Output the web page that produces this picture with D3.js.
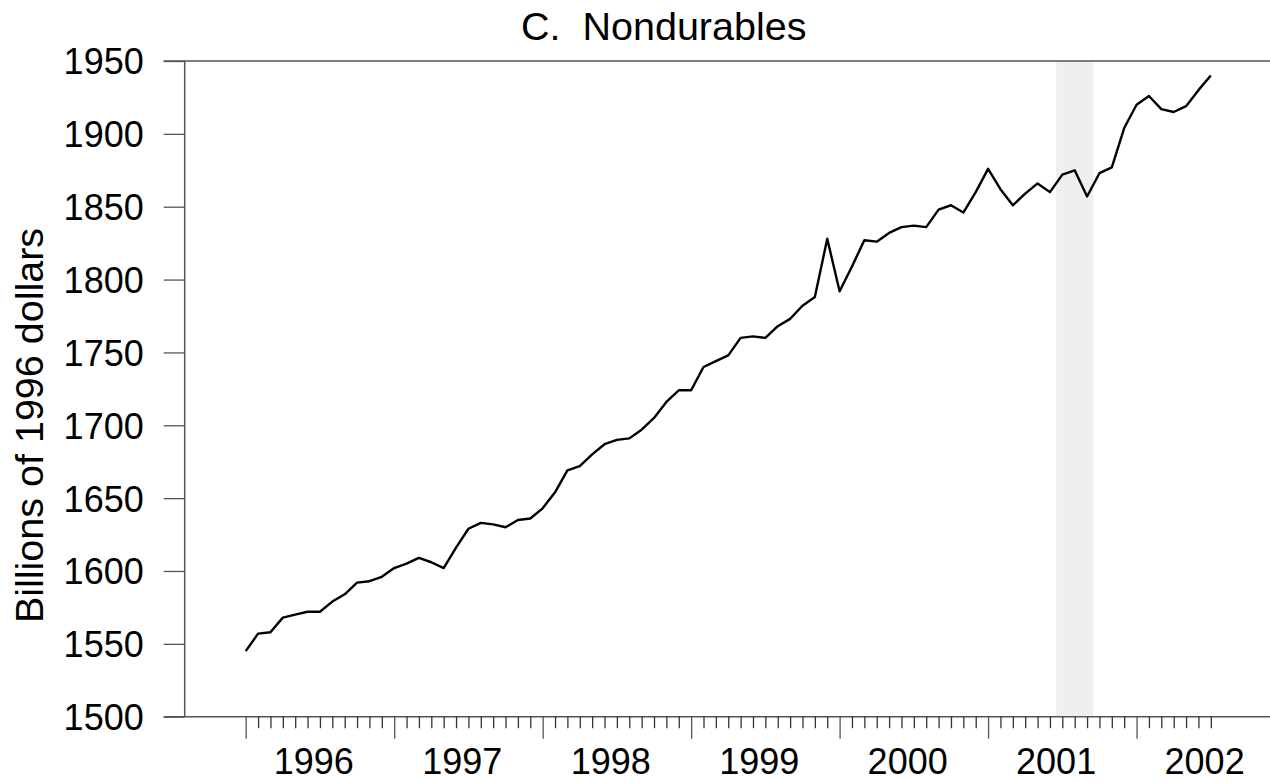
<!DOCTYPE html>
<html>
<head>
<meta charset="utf-8">
<script src="https://d3js.org/d3.v7.min.js"></script>
<style>
  body { margin: 0; background: #fff; }
  text { font-family: "Liberation Sans", Arial, sans-serif; fill: #000; }
</style>
</head>
<body>
<div id="chart"></div>
<script>
  // monthly values, Jan 1996 .. Jul 2002 (billions of 1996 dollars)
  var values = [
    1545, 1557, 1558, 1568, 1570, 1572, 1572, 1579, 1584, 1592, 1593, 1596,   // 1996
    1602, 1605, 1609, 1606, 1602, 1616, 1629, 1633, 1632, 1630, 1635, 1636,   // 1997
    1643, 1654, 1669, 1672, 1680, 1687, 1690, 1691, 1697, 1705, 1716, 1724,   // 1998
    1724, 1740, 1744, 1748, 1760, 1761, 1760, 1768, 1773, 1782, 1788, 1828,   // 1999
    1792, 1809, 1827, 1826, 1832, 1836, 1837, 1836, 1848, 1851, 1846, 1860,   // 2000
    1876, 1862, 1851, 1859, 1866, 1860, 1872, 1875, 1857, 1873, 1877, 1904,   // 2001
    1920, 1926, 1917, 1915, 1919, 1930, 1940                                  // 2002
  ];
  var years = [1996, 1997, 1998, 1999, 2000, 2001, 2002];
  var yTicks = [1500, 1550, 1600, 1650, 1700, 1750, 1800, 1850, 1900, 1950];
  // shaded months (index from Jan 1996): Jul 2001 .. Sep 2001
  var shadeMonths = [66, 68];

  var W = 1270, H = 783;
  var svg = d3.select("#chart").append("svg")
      .attr("width", W)
      .attr("height", H);

  var nMonths = values.length - 1;
  var x = d3.scaleLinear().domain([0, nMonths]).range([245.7, 1210.8]);
  var y = d3.scaleLinear().domain([1500, 1950]).range([716.7, 61]);

  var axisLeftX = 184.7, tickStart = 163.7;

  // shaded band
  svg.append("rect")
    .attr("x", x(shadeMonths[0] - 0.5))
    .attr("y", y(1950))
    .attr("width", x(shadeMonths[1] + 0.5) - x(shadeMonths[0] - 0.5))
    .attr("height", y(1500) - y(1950))
    .attr("fill", "#efefef");

  // y axis
  var gy = svg.append("g")
    .attr("transform", "translate(" + axisLeftX + ",0)")
    .call(d3.axisLeft(y).tickValues(yTicks).tickFormat(d3.format("d"))
      .tickSize(axisLeftX - tickStart).tickPadding(20));
  gy.select(".domain").remove();
  gy.selectAll(".tick line").attr("stroke", "#555").attr("stroke-width", 1.3);
  gy.selectAll(".tick text")
    .style("font-size", "36px")
    .style("font-family", "'Liberation Sans', Arial, sans-serif")
    .attr("dy", "0.36em");
  svg.append("line")
    .attr("x1", axisLeftX).attr("x2", axisLeftX)
    .attr("y1", y(1950)).attr("y2", y(1500))
    .attr("stroke", "#555").attr("stroke-width", 1.5);

  // top and bottom rules
  [1500, 1950].forEach(function(v) {
    svg.append("line")
      .attr("x1", tickStart).attr("x2", W)
      .attr("y1", y(v)).attr("y2", y(v))
      .attr("stroke", "#555").attr("stroke-width", 1.5);
  });

  // x axis: monthly ticks, longer at each January
  var gx = svg.append("g")
    .attr("transform", "translate(0," + y(1500) + ")")
    .call(d3.axisBottom(x).tickValues(d3.range(0, nMonths + 1)).tickSize(11.5).tickFormat(""));
  gx.select(".domain").remove();
  gx.selectAll(".tick line")
    .attr("stroke-width", 1.3)
    .attr("y2", function(d) { return d % 12 === 0 ? 22 : 11.5; })
    .attr("stroke", function(d) { return d % 12 === 0 ? "#555" : "#333"; });

  svg.append("g").selectAll("text")
    .data(years)
    .enter()
    .append("text")
      .attr("x", function(d) { return x((d - years[0]) * 12 + 5.5); })
      .attr("y", 774)
      .attr("text-anchor", "middle")
      .style("font-size", "36px")
      .text(function(d) { return d; });

  // the series
  var line = d3.line()
    .x(function(d, i) { return x(i); })
    .y(function(d) { return y(d); });
  svg.append("path")
    .datum(values)
    .attr("d", line)
    .attr("fill", "none")
    .attr("stroke", "#000")
    .attr("stroke-width", 2.4)
    .attr("stroke-linejoin", "round");

  // title and y label
  svg.append("text")
    .attr("x", 521)
    .attr("y", 40)
    .attr("xml:space", "preserve")
    .style("white-space", "pre")
    .style("font-size", "39.5px")
    .text("C.  Nondurables");

  svg.append("text")
    .attr("transform", "translate(42.5," + 425.5 + ") rotate(-90)")
    .attr("text-anchor", "middle")
    .style("font-size", "39.5px")
    .text("Billions of 1996 dollars");
</script>
</body>
</html>
